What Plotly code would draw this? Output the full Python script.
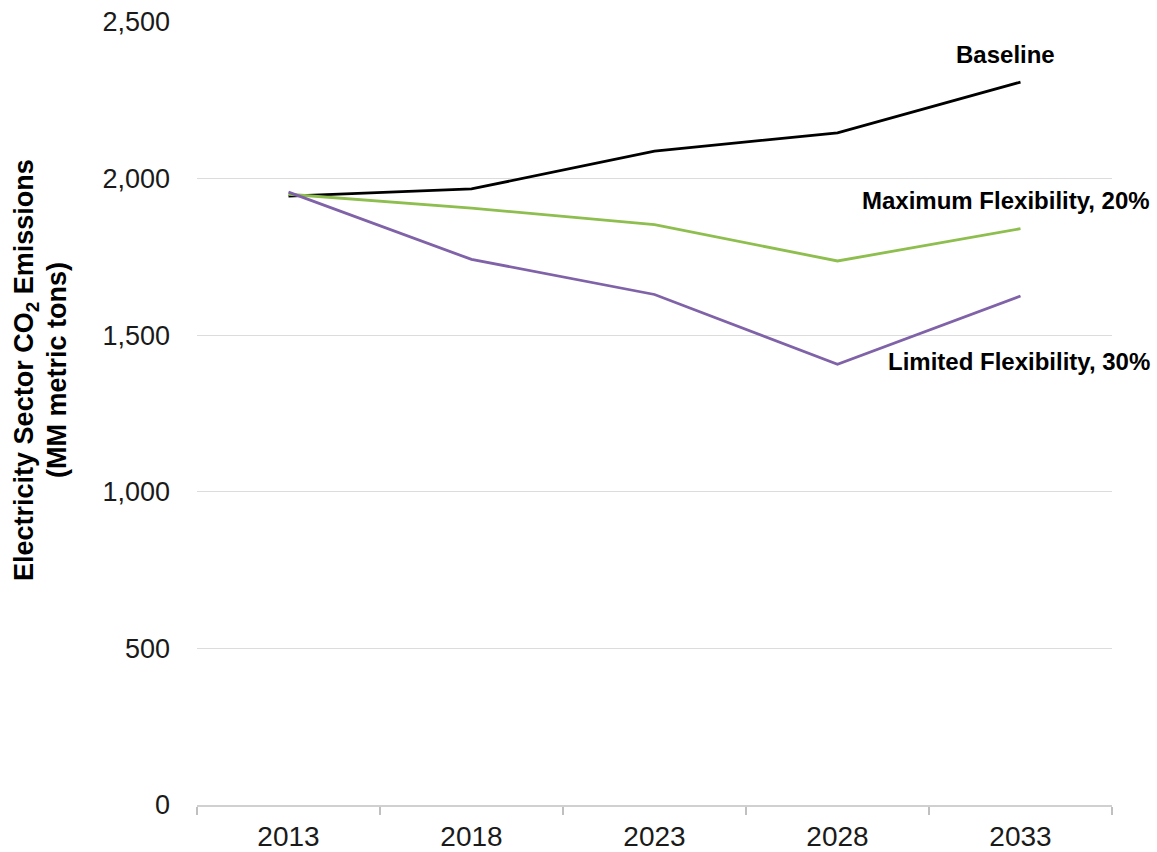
import plotly.graph_objects as go

years = ["2013", "2018", "2023", "2028", "2033"]
baseline = [1944, 1967, 2088, 2146, 2308]
max_flex = [1950, 1906, 1853, 1737, 1840]
lim_flex = [1957, 1742, 1630, 1407, 1625]

y_ticks = [0, 500, 1000, 1500, 2000, 2500]

FONT = "Liberation Sans, Arial, sans-serif"

fig = go.Figure()
fig.add_trace(go.Scatter(x=years, y=baseline, mode="lines", name="Baseline",
                         line=dict(color="#000000", width=2.8)))
fig.add_trace(go.Scatter(x=years, y=max_flex, mode="lines", name="Maximum Flexibility, 20%",
                         line=dict(color="#8DBE4E", width=2.8)))
fig.add_trace(go.Scatter(x=years, y=lim_flex, mode="lines", name="Limited Flexibility, 30%",
                         line=dict(color="#7F62A8", width=2.8)))

fig.update_layout(
    width=1157, height=852,
    margin=dict(l=197, r=45, t=22, b=47),
    paper_bgcolor="white", plot_bgcolor="white",
    showlegend=False,
    font=dict(family=FONT, size=27, color="#1a1a1a"),
)
fig.update_xaxes(
    type="category", range=[-0.5, 4.5], automargin=False,
    showgrid=False, showline=True, linecolor="#d0d0d0", linewidth=1.5,
    ticks="outside", tickson="boundaries", ticklen=8, tickcolor="#c0c0c0", tickwidth=1.5,
    ticklabelstandoff=6,
    tickfont=dict(size=28, family=FONT, color="#1a1a1a"),
)
fig.update_yaxes(
    range=[0, 2500], tickvals=y_ticks, tickformat=",d", automargin=False,
    showgrid=True, gridcolor="#dcdcdc", gridwidth=1.2,
    showline=False, zeroline=False, ticks="",
    ticklabelstandoff=26,
    tickfont=dict(size=27, family=FONT, color="#1a1a1a"),
)

ann_font = dict(family=FONT, size=24, color="#000000")
fig.add_annotation(text="<b>Baseline</b>", xref="paper", yref="paper",
                   x=0.884, y=0.959, xanchor="center", yanchor="middle",
                   showarrow=False, font=ann_font)
fig.add_annotation(text="<b>Maximum Flexibility, 20%</b>", xref="paper", yref="paper",
                   x=1.0437, y=0.7714, xanchor="right", yanchor="middle",
                   showarrow=False, font=ann_font)
fig.add_annotation(text="<b>Limited Flexibility, 30%</b>", xref="paper", yref="paper",
                   x=1.0437, y=0.5658, xanchor="right", yanchor="middle",
                   showarrow=False, font=ann_font)

title_font = dict(family=FONT, size=27, color="#000000")
fig.add_annotation(text="<b>Electricity Sector CO<sub>2</sub> Emissions</b>",
                   xref="paper", yref="paper", x=0, y=0.5556,
                   xanchor="center", yanchor="middle", xshift=-171,
                   textangle=-90, showarrow=False, font=title_font)
fig.add_annotation(text="<b>(MM metric tons)</b>",
                   xref="paper", yref="paper", x=0, y=0.5556,
                   xanchor="center", yanchor="middle", xshift=-140,
                   textangle=-90, showarrow=False, font=title_font)

fig.write_html("out.html", config={"displayModeBar": False},
               post_script="document.body.style.margin='0';document.body.style.overflow='hidden';")
